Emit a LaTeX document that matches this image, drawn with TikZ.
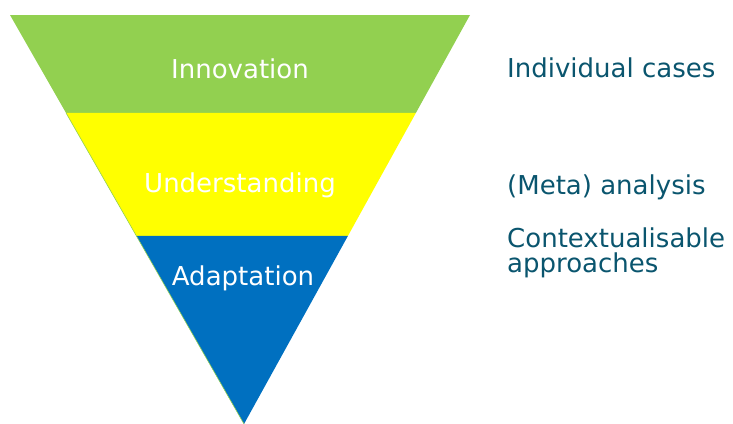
\documentclass[tikz,border=0pt]{standalone}
\usepackage{fontspec}
\setmainfont{DejaVu Sans}
\usetikzlibrary{calc}
\definecolor{lgreen}{HTML}{92D050}
\definecolor{yel}{HTML}{FFFF00}
\definecolor{blu}{HTML}{0070C0}
\definecolor{teal}{RGB}{10,85,110}
\begin{document}
\begin{tikzpicture}[x=1pt,y=-1pt,
  inlabel/.style={text=white,font=\fontsize{26}{30}\selectfont,anchor=base},
  sidelabel/.style={text=teal,font=\fontsize{26}{25}\selectfont,anchor=base west,align=left,inner sep=0pt}]
\useasboundingbox (0,0) rectangle (733,423);
% bands
\coordinate (tl) at (10,15);
\coordinate (tr) at (470,15);
\coordinate (ap) at (244,424);
\path[fill=lgreen] (tl) -- (tr) -- ($(tr)!0.2396!(ap)$) -- ($(tl)!0.2396!(ap)$) -- cycle;
\path[fill=yel] ($(tl)!0.2396!(ap)$) -- ($(tr)!0.2396!(ap)$) -- ($(tr)!0.5403!(ap)$) -- ($(tl)!0.5403!(ap)$) -- cycle;
\path[fill=blu] ($(tl)!0.5403!(ap)$) -- ($(tr)!0.5403!(ap)$) -- (ap) -- cycle;
\draw[lgreen,line width=0.6pt] ($(tl)!0.2396!(ap)$) -- (ap);
\node[inlabel] (inn) at (240,78) {Innovation};
\node[inlabel] (und) at (240,192) {Understanding};
\node[inlabel] (ada) at (243,285) {Adaptation};
\node[sidelabel] (ic) at (507,77) {Individual cases};
\node[sidelabel] (ma) at (507,194) {(Meta) analysis};
\node[sidelabel] (ca) at (507,272) {Contextualisable\\approaches};
\end{tikzpicture}
\end{document}
